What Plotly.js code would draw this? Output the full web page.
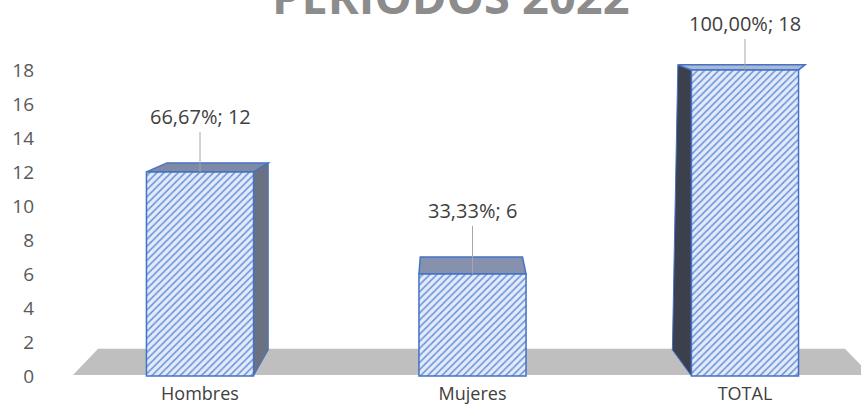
<!DOCTYPE html>
<html>
<head>
<meta charset="utf-8">
<script src="https://cdn.plot.ly/plotly-3.0.1.min.js"></script>
<style>html,body{margin:0;padding:0;background:#fff;}#chart{width:861px;height:413px;}</style>
</head>
<body>
<div id="chart"></div>
<script>
// ---- data ----
var categories = ["Hombres", "Mujeres", "TOTAL"];
var values = [12, 6, 18];
var percents = [66.67, 33.33, 100.00];
var yTicks = [0, 2, 4, 6, 8, 10, 12, 14, 16, 18];
var chartTitle = "PERIODOS 2022";

// ---- styling (perspective offsets of the 3D faces, in axis units) ----
var barW = 0.393;
var halfW = barW / 2;
// top face: back-left dx, back-right dx, depth dy
var topFace = [
  {dl: 0.075, dr: 0.054, dy: 0.53, color: "#7f8aa6"},
  {dl: 0.005, dr: -0.013, dy: 1.0, color: "#8591ad"},
  {dl: -0.05, dr: 0.024, dy: 0.3, color: "#aab8d6"}
];
// side face: which side, dx at top, dx at floor-back, floor-back y
var sideFace = [
  {side: 1, dxTop: 0.054, dxBot: 0.054, yBot: 1.53, color: "#6a7183"},
  null,
  {side: -1, dxTop: -0.05, dxBot: -0.07, yBot: 1.53, color: "#3b404c"}
];

var xs = categories.map(function (c, i) { return i; });
var labels = values.map(function (v, i) {
  return percents[i].toFixed(2).replace('.', ',') + '%; ' + v;
});

var shapes = [];
// floor
shapes.push({
  type: 'path', xref: 'x', yref: 'y', layer: 'below',
  path: 'M -0.466 0.06 L -0.374 1.59 L 2.367 1.59 L 2.46 0.06 Z',
  fillcolor: '#bfbfbf', line: {width: 0}
});
values.forEach(function (v, i) {
  var xl = xs[i] - halfW, xr = xs[i] + halfW;
  var s = sideFace[i];
  if (s) {
    var xf = s.side > 0 ? xr : xl;
    shapes.push({
      type: 'path', xref: 'x', yref: 'y', layer: 'below',
      path: 'M ' + xf + ' ' + v + ' L ' + (xf + s.dxTop) + ' ' + (v + topFace[i].dy) +
            ' L ' + (xf + s.dxBot) + ' ' + s.yBot + ' L ' + xf + ' 0 Z',
      fillcolor: s.color, line: {color: '#4472C4', width: 1}
    });
  }
  var t = topFace[i];
  shapes.push({
    type: 'path', xref: 'x', yref: 'y', layer: 'below',
    path: 'M ' + xl + ' ' + v + ' L ' + (xl + t.dl) + ' ' + (v + t.dy) +
          ' L ' + (xr + t.dr) + ' ' + (v + t.dy) + ' L ' + xr + ' ' + v + ' Z',
    fillcolor: t.color, line: {color: '#4472C4', width: 1.5}
  });
});

var annotations = [];
var ays = [-55, -63, -46];
values.forEach(function (v, i) {
  annotations.push({
    x: xs[i], y: v, xref: 'x', yref: 'y', text: labels[i],
    showarrow: true, arrowhead: 0, arrowwidth: 1, arrowcolor: '#a6a6a6',
    ax: 0, ay: ays[i], standoff: 0,
    font: {family: 'Open Sans', size: 20, color: '#404040'}
  });
});
annotations.push({
  xref: 'paper', yref: 'paper', x: 0.497, y: 1.0, xanchor: 'center', yanchor: 'bottom',
  text: '<b>' + chartTitle + '</b>', showarrow: false,
  font: {family: 'Open Sans', size: 47, color: '#8c8c8c'}
});

var trace = {
  type: 'bar', x: xs, y: values, width: barW,
  marker: {
    color: '#dde6f6',
    pattern: {shape: '/', fgcolor: '#6a92dc', bgcolor: '#e3eaf8', size: 5, solidity: 0.3},
    line: {color: '#4472C4', width: 1.5}
  },
  hoverinfo: 'skip'
};

var layout = {
  width: 861, height: 413,
  margin: {l: 45, r: 0, t: 30, b: 32},
  paper_bgcolor: '#ffffff', plot_bgcolor: '#ffffff',
  showlegend: false,
  xaxis: {
    range: [-0.5688, 2.4257], tickvals: xs, ticktext: categories,
    showgrid: false, zeroline: false, showline: false, ticks: '',
    tickfont: {family: 'Open Sans', size: 18, color: '#404040'}
  },
  yaxis: {
    range: [-0.3, 20.35], tickvals: yTicks,
    showgrid: false, zeroline: false, showline: false, ticks: '',
    ticklabelstandoff: 10,
    tickfont: {family: 'Open Sans', size: 19, color: '#595959'}
  },
  shapes: shapes,
  annotations: annotations
};

Plotly.newPlot('chart', [trace], layout, {staticPlot: true, displayModeBar: false});
</script>
</body>
</html>
